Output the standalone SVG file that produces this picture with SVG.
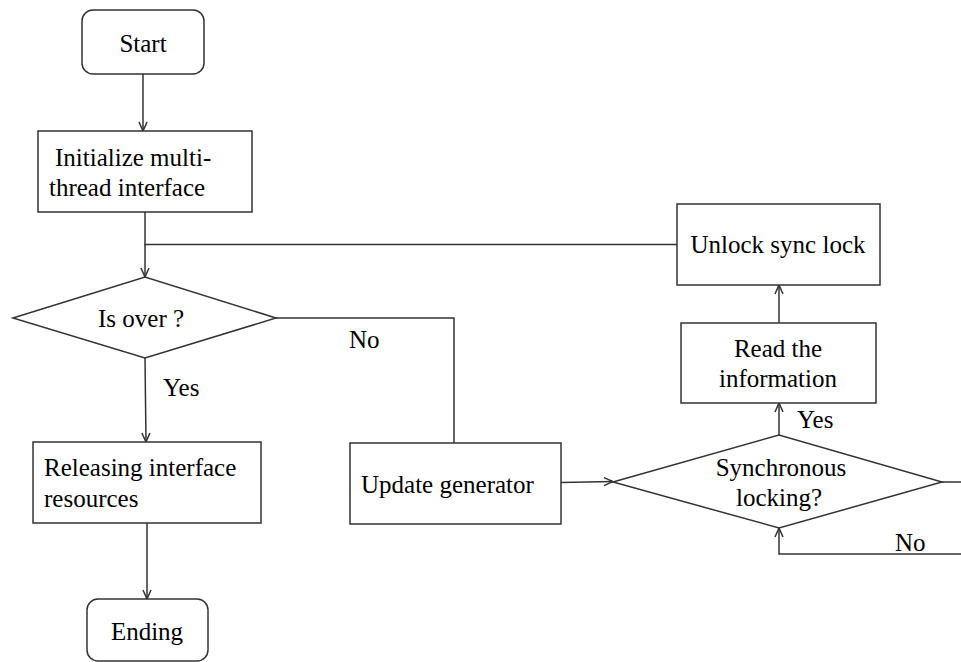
<svg xmlns="http://www.w3.org/2000/svg" width="961" height="662" viewBox="0 0 961 662">
  <style>
    .box { fill: #ffffff; stroke: #333333; stroke-width: 1.5; }
    .line { fill: none; stroke: #333333; stroke-width: 1.5; }
    .arrow { fill: none; stroke: #333333; stroke-width: 1.5; marker-end: url(#open); }
    text { font-family: "Liberation Serif", "Times New Roman", serif; font-size: 25px; fill: #000000; }
    .c { text-anchor: middle; }
  </style>
  <defs>
    <marker id="open" viewBox="0 0 10 10" refX="10" refY="5" markerWidth="10" markerHeight="10" markerUnits="userSpaceOnUse" orient="auto">
      <path d="M1,1 L10,5 L1,9" fill="none" stroke="#333333" stroke-width="1.5"/>
    </marker>
  </defs>
  <rect width="961" height="662" fill="#ffffff"/>

  <g id="connectors">
    <line class="arrow" x1="143" y1="74" x2="143" y2="131"/>
    <line class="line" x1="145" y1="212" x2="145" y2="245"/>
    <line class="line" x1="145" y1="244.5" x2="677" y2="244.5"/>
    <line class="arrow" x1="145" y1="244" x2="145" y2="277"/>
    <polyline class="line" points="276,318 454,318 454,443"/>
    <line class="arrow" x1="145" y1="358" x2="146" y2="442"/>
    <line class="arrow" x1="147" y1="523" x2="147" y2="599"/>
    <line class="arrow" x1="561" y1="482.5" x2="613" y2="481.5"/>
    <line class="arrow" x1="779" y1="435" x2="779" y2="403"/>
    <line class="arrow" x1="779" y1="323" x2="779" y2="285"/>
    <polyline class="arrow" points="942,482 966,482 966,554 779,554 779,528"/>
    <text x="349" y="348">No</text>
    <text x="163" y="396">Yes</text>
    <text x="797" y="428">Yes</text>
    <text x="895" y="551">No</text>
  </g>

  <g id="start">
    <rect class="box" x="82" y="10" width="122" height="64" rx="11"/>
    <text class="c" x="143" y="52">Start</text>
  </g>

  <g id="init">
    <rect class="box" x="38" y="131" width="214" height="81"/>
    <text x="55" y="166">Initialize multi-</text>
    <text x="49" y="196">thread interface</text>
  </g>

  <g id="is-over">
    <polygon class="box" points="13,318 145,277 276,318 145,358"/>
    <text x="98" y="327">Is over ?</text>
  </g>

  <g id="release">
    <rect class="box" x="33" y="442" width="228" height="81"/>
    <text x="44" y="476">Releasing interface</text>
    <text x="44" y="507">resources</text>
  </g>

  <g id="ending">
    <rect class="box" x="87" y="599" width="121" height="62" rx="11"/>
    <text class="c" x="147" y="640">Ending</text>
  </g>

  <g id="update">
    <rect class="box" x="350" y="443" width="211" height="81"/>
    <text x="361" y="493">Update generator</text>
  </g>

  <g id="sync">
    <polygon class="box" points="613,482 779,435 942,482 779,528"/>
    <text class="c" x="781" y="476">Synchronous</text>
    <text class="c" x="779" y="506">locking?</text>
  </g>

  <g id="read">
    <rect class="box" x="681" y="323" width="195" height="80"/>
    <text class="c" x="778" y="357">Read the</text>
    <text class="c" x="778" y="387">information</text>
  </g>

  <g id="unlock">
    <rect class="box" x="677" y="204" width="203" height="81"/>
    <text class="c" x="778" y="253">Unlock sync lock</text>
  </g>
</svg>
